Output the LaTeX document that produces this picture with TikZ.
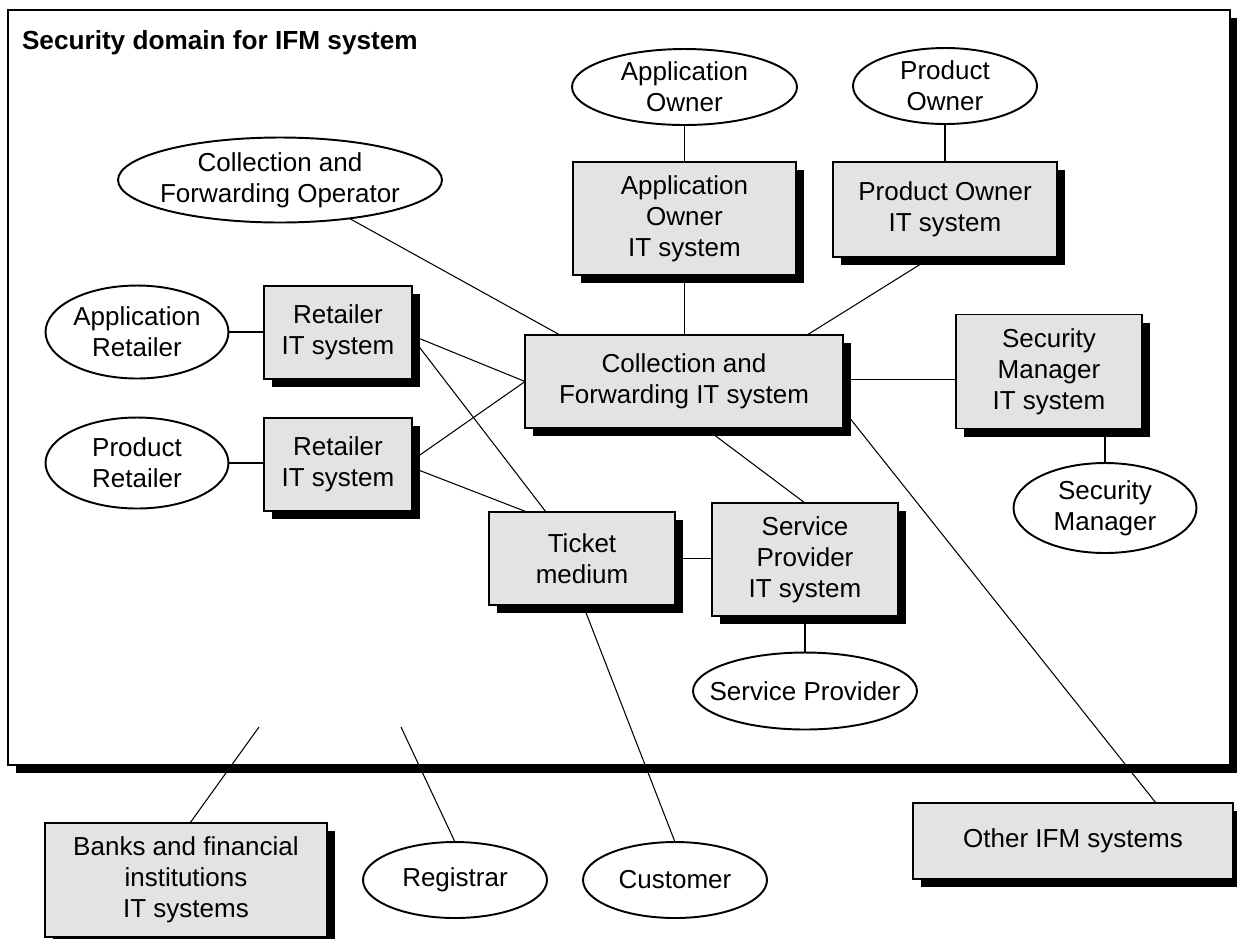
\documentclass[tikz,border=0pt]{standalone}
\usepackage{fontspec}
\setmainfont{Liberation Sans}
\usetikzlibrary{shapes.geometric,calc,shadows}
\pgfdeclarelayer{frame}
\pgfdeclarelayer{links}
\pgfsetlayers{frame,links,main}

\begin{document}
\begin{tikzpicture}[x=0.02cm,y=-0.02cm,
  every node/.style={font=\fontsize{14.8}{17.6}\selectfont, align=center, inner sep=0pt, outer sep=0pt},
  boxshadow/.style={drop shadow={shadow xshift=0.16cm, shadow yshift=-0.16cm, opacity=1, fill=black}},
  itbox/.style={rectangle, draw=black, line width=1.1pt, fill=black!11, boxshadow},
  actor/.style={ellipse, draw=black, line width=1.1pt, fill=white, inner sep=-20pt},
  link/.style={line width=0.6pt},
  ]
\useasboundingbox (0,0) rectangle (1237,938);
\clip (0,0) rectangle (1237,938);

% security domain frame
\begin{pgfonlayer}{frame}
\node[rectangle, draw=black, line width=1.1pt, fill=white, boxshadow,
      minimum width=24.44cm, minimum height=15.1cm] (domain) at (619,387.5) {};
\end{pgfonlayer}
\node[anchor=base west, font=\bfseries\fontsize{14.9}{16}\selectfont] (title) at (22,49) {Security domain for IFM system};

% free ends of the links that leave the domain
\coordinate (bankend) at (259,727);
\coordinate (regend) at (401,727);

% ---- actors (ellipses)
\node[actor, minimum width=4.5cm,  minimum height=1.52cm] (ao)  at (684.5,87) {Application\\Owner};
\node[actor, minimum width=3.68cm, minimum height=1.52cm] (po)  at (945,86)   {Product\\Owner};
\node[actor, minimum width=6.48cm, minimum height=1.7cm]  (cfo) at (280,180)  {Collection and\\Forwarding Operator};
\node[actor, minimum width=3.66cm, minimum height=1.86cm] (ar)  at (137,332)  {Application\\Retailer};
\node[actor, minimum width=3.66cm, minimum height=1.82cm] (pr)  at (137,463)  {Product\\Retailer};
\node[actor, minimum width=3.66cm, minimum height=1.8cm]  (smg) at (1105,508) {Security\\Manager};
\node[actor, minimum width=4.48cm, minimum height=1.54cm] (spe) at (805,691)  {Service Provider};
\node[actor, minimum width=3.68cm, minimum height=1.52cm] (reg) at (455,880)  {Registrar};
\node[actor, minimum width=3.68cm, minimum height=1.52cm] (cust) at (675,880) {Customer};

% ---- IT systems (shaded boxes)
\node[itbox, minimum width=4.46cm, minimum height=2.26cm] (aoit) at (684.5,218.5) {Application\\Owner\\IT system};
\node[itbox, minimum width=4.48cm, minimum height=1.9cm]  (poit) at (945,209.5)   {Product Owner\\IT system};
\node[itbox, minimum width=6.36cm, minimum height=1.86cm] (cf)   at (684,381.5)   {Collection and\\Forwarding IT system};
\node[itbox, minimum width=2.96cm, minimum height=1.86cm] (r1)   at (338,332.5)   {Retailer\\IT system};
\node[itbox, minimum width=2.96cm, minimum height=1.86cm] (r2)   at (338,464.5)   {Retailer\\IT system};
\node[itbox, minimum width=3.72cm, minimum height=2.28cm] (sm)   at (1049,371.5)  {Security\\Manager\\IT system};
\node[itbox, minimum width=3.72cm, minimum height=1.86cm] (tm)   at (582,558.5)   {Ticket\\medium};
\node[itbox, minimum width=3.72cm, minimum height=2.26cm] (sp)   at (805,559.5)   {Service\\Provider\\IT system};
\node[itbox, minimum width=5.64cm, minimum height=2.28cm] (banks) at (186,880)    {Banks and financial\\institutions\\IT systems};
\node[itbox, minimum width=6.4cm,  minimum height=1.52cm] (other) at (1073,841)   {Other IFM systems};

% ---- links, kept beneath the nodes
\begin{pgfonlayer}{links}
\draw[link] (ao.south) -- (aoit.north);
\draw[link] (po.south) -- (poit.north);
\draw[link] (aoit.south) -- (aoit.south |- cf.north);
\draw[link] ($(poit.south)+(-13,0)$) -- ($(cf.north)+(123,0)$);
\draw[link] (cfo) -- ($(cf.north west)+(35,0)$);
\draw[link] (ar.east) -- (ar.east -| r1.west);
\draw[link] (pr.east) -- (pr.east -| r2.west);
\draw[link] ($(r1.east)+(0,3)$) -- (cf.west);
\draw[link] ($(r1.east)+(0,5)$) -- ($(tm.north)+(-36,0)$);
\draw[link] ($(r2.east)+(0,-4)$) -- (cf.west);
\draw[link] ($(r2.east)+(0,3)$) -- ($(tm.north)+(-55,0)$);
\draw[link] ($(cf.east)+(0,-2)$) -- ($(cf.east -| sm.west)+(0,-2)$);
\draw[link] (smg.north) -- (smg.north |- sm.south);
\draw[link] ($(cf.south)+(21,0)$) -- (sp.north);
\draw[link] (cf.-10.5) -- ($(other.north)+(83,0)$);
\draw[link] (tm.east) -- (tm.east -| sp.west);
\draw[link] (sp.south) -- (spe.north);
\draw[link] ($(tm.south)+(1,0)$) -- (cust.north);
\draw[link] (regend) -- (reg.north);
\draw[link] (bankend) -- ($(banks.north)+(4,0)$);
\end{pgfonlayer}
\end{tikzpicture}
\end{document}
